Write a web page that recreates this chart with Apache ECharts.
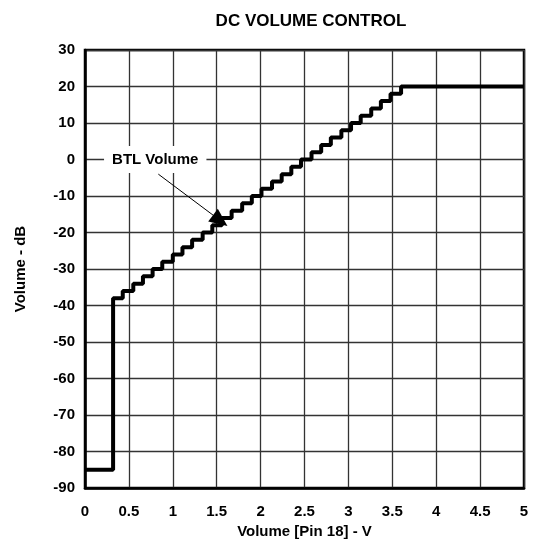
<!DOCTYPE html>
<html>
<head>
<meta charset="utf-8">
<title>DC Volume Control</title>
<script src="https://cdn.jsdelivr.net/npm/echarts@6/dist/echarts.min.js"></script>
<style>
  html, body { margin: 0; padding: 0; background: #fff; }
  #chart { width: 540px; height: 544px; }
</style>
</head>
<body>
<div id="chart"></div>
<script>
// volume steps
var startVolt = 0
var startGain = -85
var endVolt = 5
var stepVolts = [0.32, 0.43, 0.55, 0.66, 0.77, 0.88, 1.00, 1.11, 1.22, 1.34,
  1.45, 1.56, 1.67, 1.79, 1.90, 2.01, 2.13, 2.24, 2.35, 2.46,
  2.58, 2.69, 2.80, 2.92, 3.03, 3.14, 3.26, 3.37, 3.48, 3.60]
var stepGain = [-38, -36, -34, -32, -30, -28, -26, -24, -22, -20,
  -18, -16, -14, -12, -10, -8, -6, -4, -2, 0,
  2, 4, 6, 8, 10, 12, 14, 16, 18, 20]

// annotation
var labelAt = [0.8, 0]
var arrowFrom = [0.835, -4]
var arrowTo = [1.54, -16.7]

var fontFam = 'Liberation Sans, Arial, sans-serif'

var points = [[startVolt, startGain]]
for (var i = 0; i < stepVolts.length; i++) {
  points.push([stepVolts[i], stepGain[i]])
}
points.push([endVolt, stepGain[stepGain.length - 1]])

var option = {
  animation: false,
  title: {
    text: 'DC VOLUME CONTROL',
    left: 306,
    top: 8,
    textAlign: 'center',
    textStyle: { fontFamily: fontFam, fontSize: 17, fontWeight: 'bold', color: '#000' }
  },
  grid: {
    left: 85, right: 16, top: 50, bottom: 52,
    show: true,
    borderColor: '#000',
    borderWidth: 2.5
  },
  xAxis: {
    type: 'value',
    min: 0, max: 5, interval: 0.5,
    name: 'Volume [Pin 18] - V',
    nameLocation: 'middle',
    nameGap: 31,
    nameTextStyle: { fontFamily: fontFam, fontSize: 15, fontWeight: 'bold', color: '#000' },
    axisLine: { show: true, onZero: false, lineStyle: { color: '#000', width: 2.5 } },
    axisTick: { show: false },
    axisLabel: { margin: 16, fontFamily: fontFam, fontSize: 15, fontWeight: 'bold', color: '#000' },
    splitLine: { show: true, lineStyle: { color: '#333', width: 1.3 } }
  },
  yAxis: {
    type: 'value',
    min: -90, max: 30, interval: 10,
    name: 'Volume - dB',
    nameLocation: 'middle',
    nameGap: 57,
    nameTextStyle: { fontFamily: fontFam, fontSize: 15, fontWeight: 'bold', color: '#000' },
    axisLine: { show: true, onZero: false, lineStyle: { color: '#000', width: 2.5 } },
    axisTick: { show: false },
    axisLabel: { margin: 10, fontFamily: fontFam, fontSize: 15, fontWeight: 'bold', color: '#000' },
    splitLine: { show: true, lineStyle: { color: '#333', width: 1.3 } }
  },
  series: [
    {
      name: 'BTL Volume',
      type: 'line',
      step: 'end',
      data: points,
      showSymbol: false,
      lineStyle: { color: '#000', width: 4 },
      z: 5,
      markPoint: {
        symbol: 'rect',
        symbolSize: 0,
        silent: true,
        data: [{
          coord: labelAt,
          label: {
            show: true,
            position: 'inside',
            formatter: 'BTL Volume',
            backgroundColor: '#fff',
            padding: [6, 8],
            fontFamily: fontFam, fontSize: 15, fontWeight: 'bold', color: '#000'
          }
        }]
      },
      markLine: {
        silent: true,
        symbol: ['none', 'triangle'],
        symbolSize: [16, 18],
        label: { show: false },
        lineStyle: { color: '#000', width: 1, type: 'solid' },
        data: [[{ coord: arrowFrom }, { coord: arrowTo }]]
      }
    }
  ]
}

var myChart = echarts.init(document.getElementById('chart'))
myChart.setOption(option)
</script>
</body>
</html>
